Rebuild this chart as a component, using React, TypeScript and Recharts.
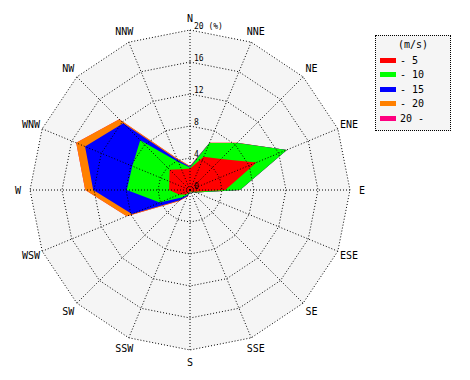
import { RadarChart, Radar, PolarGrid, PolarAngleAxis, PolarRadiusAxis, Legend } from "recharts";

const directions = ["N", "NNE", "NE", "ENE", "E", "ESE", "SE", "SSE", "S", "SSW", "SW", "WSW", "W", "WNW", "NW", "NNW"];

// frequency (%) per speed class, per direction
const upTo5 = [2.7, 4.5, 5.5, 9.0, 4.4, 0.6, 0.3, 0.2, 0.2, 0.4, 0.8, 1.5, 2.6, 2.8, 3.6, 2.8];
const upTo10 = [0.1, 1.85, 2.8, 4.1, 1.85, 0.2, 0.1, 0.1, 0.1, 0.2, 0.5, 2.6, 5.3, 5.0, 5.2, 1.0];
const upTo15 = [0.1, 0, 0, 0, 0, 0, 0, 0, 0, 0.2, 0.5, 3.75, 4.2, 6.4, 3.0, 0.3];
const upTo20 = [0.1, 0.05, 0.05, 0, 0, 0, 0, 0, 0, 0.1, 0.2, 0.7, 1.0, 1.2, 0.7, 0.2];
const over20 = [0, 0, 0, 0, 0, 0, 0, 0, 0, 0, 0, 0, 0, 0, 0, 0];

const speedLabels = ["- 5", "- 10", "- 15", "- 20", "20 -"];
const speedColors = ["#ff0000", "#00ff00", "#0000ff", "#ff8000", "#ff0080"];
const radiusTicks = [0, 4, 8, 12, 16, 20];

const classes = [upTo5, upTo10, upTo15, upTo20, over20];

// cumulative totals so each class is drawn as a filled polygon stacked on the previous one
const data = directions.map((dir, i) => {
  const row: any = { dir };
  let sum = 0;
  classes.forEach((arr, k) => {
    sum += arr[i];
    row["c" + k] = sum;
  });
  return row;
});

const font = "'DejaVu Sans Mono', monospace";

const DirTick = ({ x, y, payload }: any) => (
  <text x={x} y={y} textAnchor="middle" dominantBaseline="central" fontFamily={font} fontSize={10} fill="#000">
    {payload.value}
  </text>
);

const RadiusTick = ({ x, y, payload }: any) => (
  <text x={x + 4} y={y - 1} textAnchor="start" fontFamily={font} fontSize={8} fill="#000">
    {payload.value === 20 ? "20  (%)" : payload.value}
  </text>
);

const LegendBox = () => (
  <div
    style={{
      width: 76,
      height: 96,
      border: "1px dotted #000",
      background: "#f5f5f5",
      fontFamily: font,
      fontSize: 10,
      boxSizing: "border-box",
      paddingTop: 3,
    }}
  >
    <div style={{ textAlign: "center", height: 14 }}>(m/s)</div>
    {speedLabels.map((label, i) => (
      <div key={label} style={{ display: "flex", alignItems: "center", height: 14.5, paddingLeft: 4 }}>
        <span style={{ display: "inline-block", width: 16, height: 5, background: speedColors[i], marginRight: 4 }} />
        <span>{label}</span>
      </div>
    ))}
  </div>
);

const layer: any = { position: "absolute", left: 0, top: 0 };

export default function App() {
  return (
    <div style={{ position: "absolute", left: 0, top: 0, width: 470, height: 380, background: "#fff" }}>
      {/* filled areas */}
      <div style={layer}>
        <RadarChart width={470} height={380} data={data} cx={190} cy={190} outerRadius={160} margin={{ top: 0, right: 0, bottom: 0, left: 0 }}>
          <PolarRadiusAxis angle={90} domain={[0, 20]} ticks={radiusTicks as any} tick={false} axisLine={false} tickLine={false} />
          <PolarAngleAxis dataKey="dir" tick={false} tickLine={false} axisLine={false} />
          <Radar dataKey={() => 20} stroke="none" fill="#f5f5f5" fillOpacity={1} isAnimationActive={false} legendType="none" />
          {[4, 3, 2, 1, 0].map((k) => (
            <Radar
              key={k}
              name={speedLabels[k]}
              dataKey={"c" + k}
              stroke="none"
              fill={speedColors[k]}
              fillOpacity={1}
              isAnimationActive={false}
            />
          ))}
        </RadarChart>
      </div>
      {/* dotted grid, labels and legend on top */}
      <div style={layer}>
        <RadarChart width={470} height={380} data={data} cx={190} cy={190} outerRadius={160} margin={{ top: 0, right: 0, bottom: 0, left: 0 }}>
          <PolarGrid gridType="polygon" stroke="#000" strokeDasharray="1 2" strokeOpacity={1} />
          <PolarRadiusAxis angle={90} domain={[0, 20]} ticks={radiusTicks as any} tickCount={6} axisLine={false} tickLine={false} tick={<RadiusTick />} />
          <PolarAngleAxis dataKey="dir" tickSize={12} tickLine={false} axisLine={false} tick={<DirTick />} />
          <Radar dataKey="c0" stroke="none" fill="none" isAnimationActive={false} legendType="none" />
          <Legend content={<LegendBox />} wrapperStyle={{ position: "absolute", left: 375, top: 35, width: 76, height: 96 }} />
        </RadarChart>
      </div>
    </div>
  );
}
